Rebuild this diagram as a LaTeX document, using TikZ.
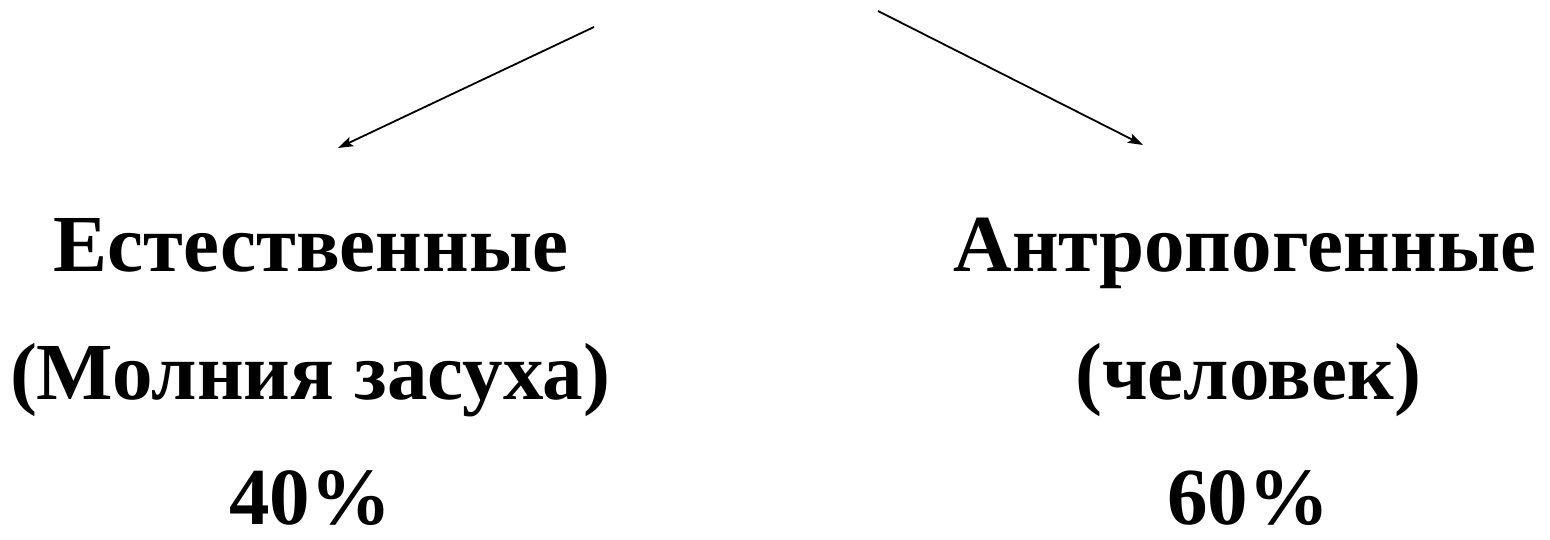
\documentclass[tikz,border=0pt]{standalone}
\usepackage{fontspec}
\setmainfont{Liberation Serif}
\usetikzlibrary{arrows.meta}
\tikzset{
  lbl/.style={anchor=base, inner sep=0pt, font=\bfseries\fontsize{81}{95}\selectfont},
  arr/.style={line width=1.8pt, -{Stealth[length=15pt,width=10pt,inset=3pt]}}
}
\begin{document}
\begin{tikzpicture}[x=1pt,y=-1pt]
\useasboundingbox (0,0) rectangle (1550,539);
\fill[white] (0,0) rectangle (1550,539);
\node[lbl] (nat) at (311,271) {Естественные};
\node[lbl] (natx) at (310,399) {(Молния засуха)};
\node[lbl] (natp) at (310,524) {40\%};
\node[lbl] (ant) at (1245,271) {Антропогенные};
\node[lbl] (antx) at (1248,399) {(человек)};
\node[lbl] (antp) at (1248,524) {60\%};
\coordinate (l0) at (594,27);
\coordinate (l1) at (338,148);
\coordinate (r0) at (878,11);
\coordinate (r1) at (1143,145);
\draw[arr] (l0) -- (l1);
\draw[arr] (r0) -- (r1);
\end{tikzpicture}
\end{document}
